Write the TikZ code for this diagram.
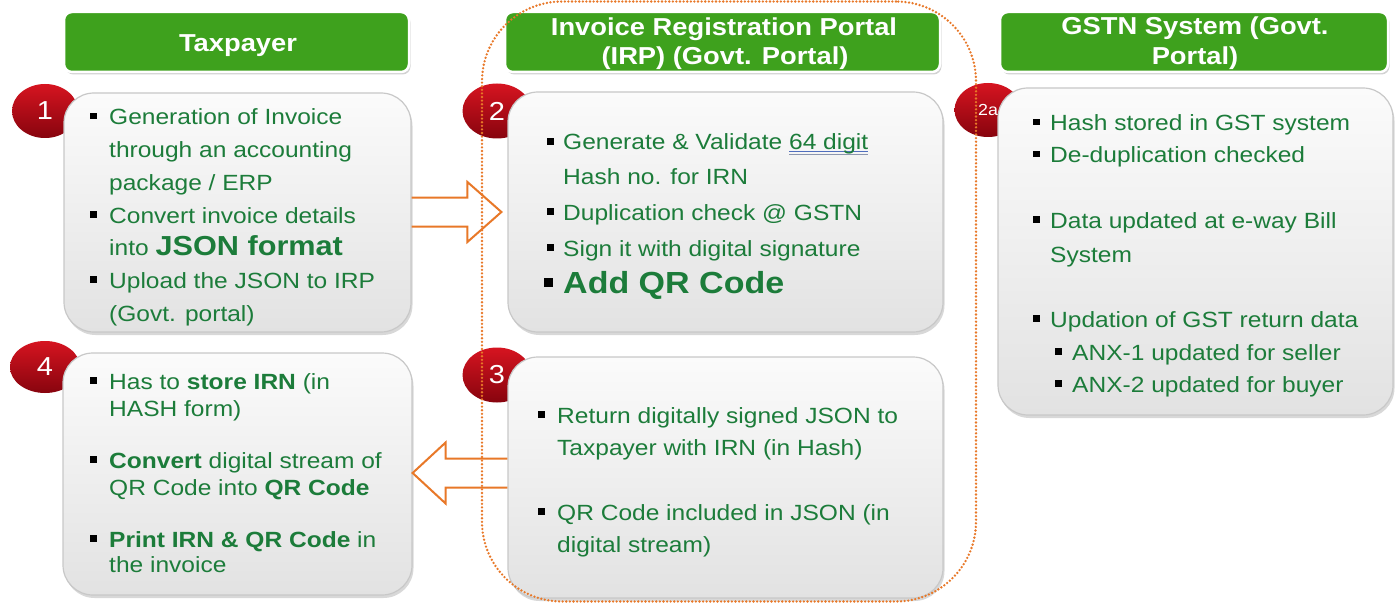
\documentclass[tikz,border=0pt]{standalone}
\usepackage{fontspec}
\setmainfont{Liberation Sans}[FakeStretch=1.115]
\usetikzlibrary{shapes.geometric,shadows,calc}
\definecolor{tgreen}{RGB}{28,124,58}
\definecolor{hgreen}{RGB}{62,161,29}
\definecolor{borange}{RGB}{232,120,40}
\definecolor{bxborder}{RGB}{200,200,200}
\definecolor{bxtop}{RGB}{251,251,251}
\definecolor{bxbot}{RGB}{226,226,226}
\definecolor{rtop}{RGB}{214,20,32}
\definecolor{rbot}{RGB}{135,4,14}
\definecolor{ublue}{RGB}{80,110,190}
\definecolor{ugray}{RGB}{140,150,175}
\newsavebox\dulbox
\newcommand\dul[1]{\sbox\dulbox{#1}\rlap{\textcolor{ublue}{\rule[-2pt]{\wd\dulbox}{0.9pt}}}\rlap{\textcolor{ugray}{\rule[-4.5pt]{\wd\dulbox}{0.9pt}}}\usebox\dulbox}
\newcommand\bul[1][19pt]{\makebox[#1][l]{\textcolor{black}{\rule[5.5pt]{6.5pt}{6.5pt}}}}
\newcommand\bigbul{\makebox[19pt][l]{\textcolor{black}{\rule[6pt]{9pt}{9pt}}}}
\begin{document}
\begin{tikzpicture}[x=1pt,y=-1pt,
  hdr/.style={draw=white, line width=2.5pt, fill=hgreen, rounded corners=8pt,
    drop shadow={shadow xshift=1.5pt, shadow yshift=-2.5pt, opacity=0.35}, inner sep=0pt},
  htx/.style={anchor=base, inner sep=0pt, text=white, font=\fontsize{24.5}{28}\selectfont\bfseries},
  gbox/.style={draw=bxborder, line width=1.2pt, top color=bxtop, bottom color=bxbot,
    rounded corners=30pt, drop shadow={shadow xshift=1.5pt, shadow yshift=-3pt, opacity=0.3}, inner sep=0pt},
  num/.style={ellipse, top color=rtop, bottom color=rbot, text=white, inner sep=0pt,
    font=\fontsize{26}{28}\selectfont},
  tx/.style={anchor=base west, inner sep=0pt, text=tgreen, font=\fontsize{22}{26}\selectfont},
  arr/.style={draw=borange, line width=2pt, line join=miter},
  grp/.style={draw=borange, line width=2.6pt, dash pattern=on 0pt off 3.6pt, line cap=round, rounded corners=80pt}]
\useasboundingbox (0,0) rectangle (1396,604);
\fill[white] (0,0) rectangle (1396,604);
% partial title (cut off by the top edge, as in the reference)
\node[anchor=base, inner sep=0pt, text=hgreen!85!black, font=\fontsize{36}{40}\selectfont\bfseries] (ttl) at (215,-8) {g};
% number ellipses
\node[num, minimum width=66pt, minimum height=54pt] (c1) at (45,111) {1};
\node[num, minimum width=69pt, minimum height=55pt] (c2) at (497,111) {2};
\node[num, minimum width=67pt, minimum height=54pt] (c2a) at (988,110) {\fontsize{16}{18}\selectfont 2a};
\node[num, minimum width=70pt, minimum height=52pt] (c4) at (45,367) {4};
\node[num, minimum width=69pt, minimum height=55pt] (c3) at (497,375) {3};
% content boxes
\node[gbox, minimum width=347pt, minimum height=239pt] (b1) at (237.5,212.5) {};
\node[gbox, minimum width=435pt, minimum height=240pt] (b2) at (725.5,212) {};
\node[gbox, minimum width=395pt, minimum height=327pt] (b2a) at (1195.5,251.5) {};
\node[gbox, minimum width=349pt, minimum height=242pt] (b4) at (237.5,474) {};
\node[gbox, minimum width=435pt, minimum height=241pt] (b3) at (725.5,477.5) {};
% headers
\node[hdr, minimum width=345pt, minimum height=60pt] (h1) at (236.5,42) {};
\node[hdr, minimum width=435pt, minimum height=60pt] (h2) at (722.5,42) {};
\node[hdr, minimum width=388pt, minimum height=60pt] (h3) at (1194,42) {};
\node[htx] (h1t) at (238,52) {Taxpayer};
\node[htx] (h2t) at (724,36) {Invoice Registration Portal};
\node[htx] (h2u) at (725,65) {(IRP) (Govt. Portal)};
\node[htx] (h3t) at (1195,35) {GSTN System (Govt.};
\node[htx] (h3u) at (1195,65) {Portal)};
% arrows
\coordinate (rt) at ($(b2.west)+(-6,0)$);
\draw[arr] ($(b1.east|-rt)+(0,-14.5)$) -- ($(rt)+(-34,-14.5)$) -- ($(rt)+(-34,-30)$) -- (rt)
  -- ($(rt)+(-34,30)$) -- ($(rt)+(-34,14.5)$) -- ($(b1.east|-rt)+(0,14.5)$);
\coordinate (lt) at ($(b4.east)+(0,-1)$);
\draw[arr] ($(b3.west|-lt)+(0,-14.5)$) -- ($(lt)+(33,-14.5)$) -- ($(lt)+(33,-30.5)$) -- (lt)
  -- ($(lt)+(33,30.5)$) -- ($(lt)+(33,14.5)$) -- ($(b3.west|-lt)+(0,14.5)$);
% box 1 text
\node[tx] (t11) at (90,125) {\bul Generation of Invoice};
\node[tx] (t12) at (109,158) {through an accounting};
\node[tx] (t13) at (109,190) {package / ERP};
\node[tx] (t14) at (90,223) {\bul Convert invoice details};
\node[tx] (t15) at (109,255) {into {\fontsize{27.5}{30}\selectfont\bfseries JSON format}};
\node[tx] (t16) at (90,288) {\bul Upload the JSON to IRP};
\node[tx] (t17) at (109,321) {(Govt. portal)};
% box 2 text
\node[tx] (t21) at (547,150) {\bul[16pt]Generate \& Validate \dul{64 digit}};
\node[tx] (t22) at (563,184) {Hash no. for IRN};
\node[tx] (t23) at (547,220) {\bul[16pt]Duplication check @ GSTN};
\node[tx] (t24) at (547,256) {\bul[16pt]Sign it with digital signature};
\node[tx] (t25) at (544,293) {\bigbul{\fontsize{30.5}{34}\selectfont\bfseries Add QR Code}};
% box 2a text
\node[tx] (t31) at (1033,131) {\bul[17pt]Hash stored in GST system};
\node[tx] (t32) at (1033,163) {\bul[17pt]De-duplication checked};
\node[tx] (t33) at (1033,228) {\bul[17pt]Data updated at e-way Bill};
\node[tx] (t34) at (1050,262) {System};
\node[tx] (t35) at (1033,327) {\bul[17pt]Updation of GST return data};
\node[tx] (t36) at (1055,360) {\bul[17pt]ANX-1 updated for seller};
\node[tx] (t37) at (1055,392) {\bul[17pt]ANX-2 updated for buyer};
% box 4 text
\node[tx] (t41) at (90,389) {\bul Has to \textbf{store IRN} (in};
\node[tx] (t42) at (109,416) {HASH form)};
\node[tx] (t43) at (90,468) {\bul\textbf{Convert} digital stream of};
\node[tx] (t44) at (109,495) {QR Code into \textbf{QR Code}};
\node[tx] (t45) at (90,547) {\bul\textbf{Print IRN \& QR Code} in};
\node[tx] (t46) at (109,572) {the invoice};
% box 3 text
\node[tx] (t51) at (538,423) {\bul Return digitally signed JSON to};
\node[tx] (t52) at (557,455) {Taxpayer with IRN (in Hash)};
\node[tx] (t53) at (538,520) {\bul QR Code included in JSON (in};
\node[tx] (t54) at (557,552) {digital stream)};
% IRP group frame
\node[grp, minimum width=494pt, minimum height=600pt] (irp) at (729,301.5) {};
\end{tikzpicture}
\end{document}
